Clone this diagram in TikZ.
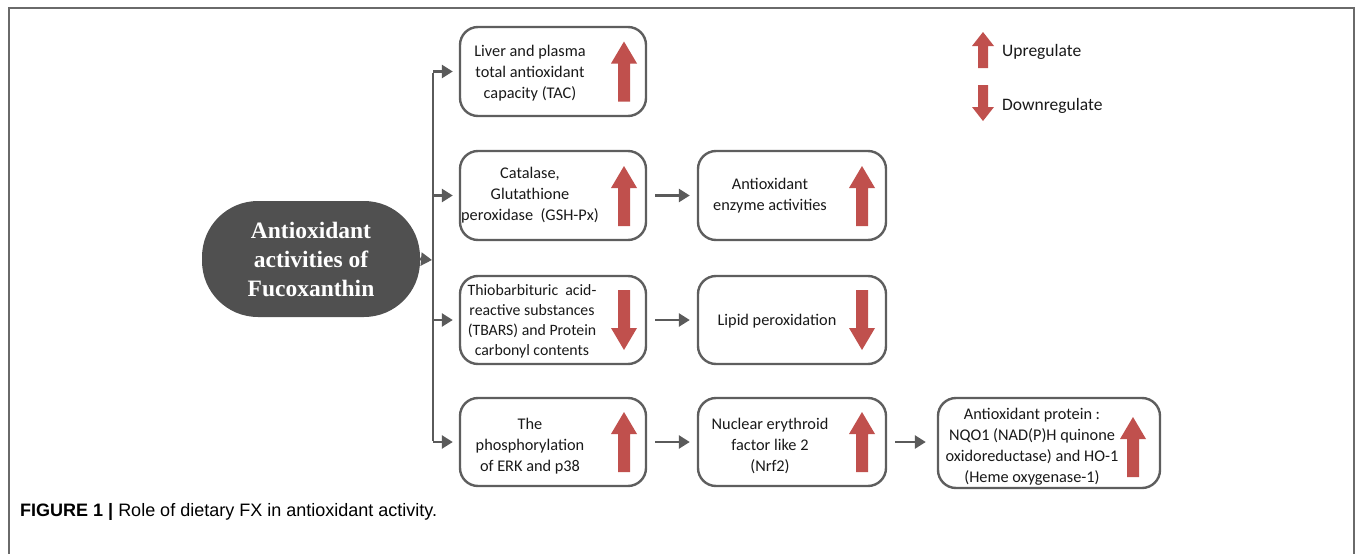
\documentclass[tikz,border=0pt]{standalone}
\usepackage{fontspec}
\setmainfont{Carlito}
\newfontfamily\titlefont{Liberation Serif}
\newfontfamily\capfont{Liberation Sans}
\usetikzlibrary{arrows.meta}
\definecolor{linegray}{HTML}{5A5A5A}
\definecolor{boxgray}{HTML}{5E5E5E}
\definecolor{darkfill}{HTML}{505050}
\definecolor{redarr}{HTML}{C0504D}
\definecolor{framegray}{HTML}{6A6A6A}
\tikzset{
  box/.style={draw=boxgray, line width=2.4pt, rounded corners=18pt, fill=white},
  boxtext/.style={align=center, inner sep=0pt, font=\fontsize{16.3}{21}\selectfont, text=black!90},
  conn/.style={draw=linegray, line width=2.6pt, -{Triangle[length=11pt,width=13pt]}},
  trunk/.style={draw=linegray, line width=2.6pt},
  redup/.pic={\fill[redarr] (0,-30) -- (13,-8) -- (6,-8) -- (6,30) -- (-6,30) -- (-6,-8) -- (-13,-8) -- cycle;},
  reddown/.pic={\fill[redarr] (0,30) -- (13,8) -- (6,8) -- (6,-30) -- (-6,-30) -- (-6,8) -- (-13,8) -- cycle;},
  legup/.pic={\fill[redarr] (0,-18) -- (11,-4) -- (5,-4) -- (5,18) -- (-5,18) -- (-5,-4) -- (-11,-4) -- cycle;},
  legdown/.pic={\fill[redarr] (0,18) -- (11,4) -- (5,4) -- (5,-18) -- (-5,-18) -- (-5,4) -- (-11,4) -- cycle;},
}
\begin{document}
\begin{tikzpicture}[x=1pt,y=-1pt]
\useasboundingbox (0,0) rectangle (1355,554);
% frame
\draw[framegray, line width=1.6pt] (9,554) -- (9,8) -- (1354,8) -- (1354,554);

% main node
\node[fill=darkfill, rounded corners=56pt, minimum width=218pt, minimum height=116pt, inner sep=0pt,
      text=white, align=center, font=\titlefont\bfseries\fontsize{23.5}{29}\selectfont] (main) at (311,259)
      {Antioxidant\\activities of\\Fucoxanthin};

% boxes
\node[box, minimum width=186pt, minimum height=89pt] (b1) at (553,71.5) {};
\node[box, minimum width=186pt, minimum height=89pt] (b2) at (553,195.5) {};
\node[box, minimum width=188pt, minimum height=89pt] (b2b) at (792,195.5) {};
\node[box, minimum width=186pt, minimum height=88pt] (b3) at (553,320) {};
\node[box, minimum width=188pt, minimum height=88pt] (b3b) at (792,320) {};
\node[box, minimum width=186pt, minimum height=88pt] (b4) at (553,442) {};
\node[box, minimum width=188pt, minimum height=88pt] (b4b) at (792,442) {};
\node[box, minimum width=222pt, minimum height=90pt] (b4c) at (1049,443) {};

% box texts
\node[boxtext] (t1) at (530,73) {Liver and plasma\\total antioxidant\\capacity (TAC)};
\node[boxtext] (t2) at (530,195) {Catalase,\\Glutathione\\peroxidase\ \ (GSH-Px)};
\node[boxtext] (t2b) at (770,196) {Antioxidant\\enzyme activities};
\node[boxtext, font=\fontsize{15.8}{20}\selectfont] (t3) at (532,321) {Thiobarbituric\ \ acid-\\reactive substances\\(TBARS) and Protein\\carbonyl contents};
\node[boxtext] (t3b) at (777,321) {Lipid peroxidation};
\node[boxtext] (t4) at (530,446) {The\\phosphorylation\\of ERK and p38};
\node[boxtext] (t4b) at (770,446) {Nuclear erythroid\\factor like 2\\(Nrf2)};
\node[boxtext] (t4c) at (1032,447) {Antioxidant protein :\\NQO1 (NAD(P)H quinone\\oxidoreductase) and HO-1\\(Heme oxygenase-1)};

% red arrows
\pic at (624,71.5) {redup};
\pic at (624,196) {redup};
\pic at (624,320) {reddown};
\pic at (862,196) {redup};
\pic at (862,320) {reddown};
\pic at (624,442) {redup};
\pic at (862,442) {redup};
\pic at (1133,447) {redup};

% trunk and branches
\coordinate (jm) at (433,260);
\coordinate (j1) at (433,71.5);
\coordinate (j2) at (433,195.5);
\coordinate (j3) at (433,320);
\coordinate (j4) at (433,442);
\draw[trunk] ([yshift=-1.3pt]j1) -- ([yshift=1.3pt]j4);
\draw[conn] (main.east) -- ([xshift=-1pt]jm);
\draw[conn, shorten >=6pt] (j1) -- (b1.west);
\draw[conn, shorten >=6pt] (j2) -- (b2.west);
\draw[conn, shorten >=6pt] (j3) -- (b3.west);
\draw[conn, shorten >=6pt] (j4) -- (b4.west);

% horizontal arrows
\draw[conn, shorten <=8pt, shorten >=7pt] (b2.east) -- (b2b.west);
\draw[conn, shorten <=8pt, shorten >=7pt] (b3.east) -- (b3b.west);
\draw[conn, shorten <=8pt, shorten >=7pt] (b4.east) -- (b4b.west);
\draw[conn, shorten <=8pt, shorten >=11pt] (b4b.east) -- (b4c.west|-b4b.east);

% legend
\pic at (983,50) {legup};
\pic at (983,103) {legdown};
\node[boxtext, anchor=west, font=\fontsize{17.5}{21}\selectfont] (lu) at (1002,52) {Upregulate};
\node[boxtext, anchor=west, font=\fontsize{17.5}{21}\selectfont] (ld) at (1002,106) {Downregulate};

% caption
\node[anchor=base west, inner sep=0pt, font=\capfont\fontsize{18}{21}\selectfont] (cap) at (20,516)
  {\textbf{FIGURE 1 |} Role of dietary FX in antioxidant activity.};
\end{tikzpicture}
\end{document}
